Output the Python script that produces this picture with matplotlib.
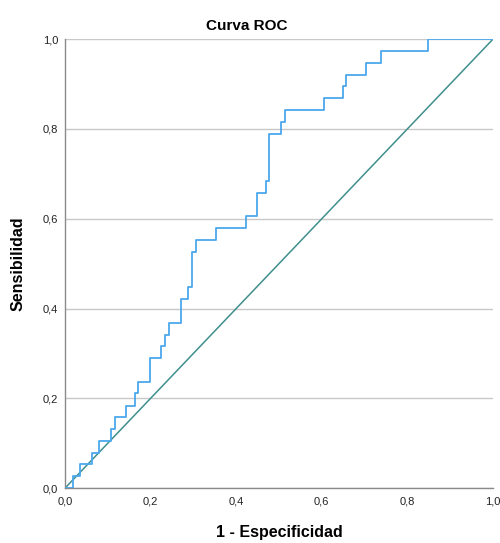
import matplotlib
matplotlib.use("Agg")
import matplotlib.pyplot as plt

# ROC step curve: start x of each horizontal segment and its sensitivity level
fpr = [0.0, 0.018, 0.035, 0.062, 0.080, 0.107, 0.117, 0.143, 0.163, 0.171,
       0.199, 0.225, 0.234, 0.244, 0.270, 0.288, 0.297, 0.306, 0.353, 0.423,
       0.448, 0.469, 0.477, 0.505, 0.514, 0.604, 0.649, 0.657, 0.703, 0.738,
       0.847, 1.0]
tpr = [0.0, 0.026, 0.053, 0.079, 0.105, 0.132, 0.158, 0.184, 0.211, 0.237,
       0.289, 0.316, 0.342, 0.368, 0.421, 0.447, 0.526, 0.553, 0.579, 0.605,
       0.658, 0.684, 0.789, 0.816, 0.842, 0.868, 0.895, 0.921, 0.947, 0.974,
       1.0, 1.0]
ref_x = [0.0, 1.0]
ref_y = [0.0, 1.0]
ticks = [0.0, 0.2, 0.4, 0.6, 0.8, 1.0]
tick_labels = ["0,0", "0,2", "0,4", "0,6", "0,8", "1,0"]

plt.rcParams['font.family'] = ['Liberation Sans', 'DejaVu Sans']

fig = plt.figure(figsize=(5.0, 5.43), dpi=100)
ax = fig.add_axes([0.13, 0.101, 0.856, 0.827])

ax.plot(fpr, tpr, drawstyle='steps-post', color='#4aa8ec', lw=1.3, zorder=3)
ax.plot(ref_x, ref_y, color='#3f8f8c', lw=1.1, zorder=2)

ax.set_xlim(0, 1)
ax.set_ylim(0, 1)
ax.set_xticks(ticks)
ax.set_xticklabels(tick_labels)
ax.set_yticks(ticks)
ax.set_yticklabels(tick_labels)
ax.tick_params(length=0, labelsize=8, colors='#222222')
ax.tick_params(axis='x', pad=6)
ax.tick_params(axis='y', pad=5)

ax.yaxis.grid(True, color='#c8c8c8', lw=1.0)
ax.set_axisbelow(True)
for s in ['top', 'right']:
    ax.spines[s].set_visible(False)
for s in ['left', 'bottom']:
    ax.spines[s].set_color('#8a8a8a')
    ax.spines[s].set_linewidth(1.0)

ax.set_xlabel('1 - Especificidad', fontsize=11.5, fontweight='bold', labelpad=13)
ax.set_ylabel('Sensibilidad', fontsize=11.5, fontweight='bold', labelpad=12)
fig.text(0.494, 0.953, 'Curva ROC', ha='center', va='center',
         fontsize=11, fontweight='bold')

fig.savefig('out.png', dpi=100)
